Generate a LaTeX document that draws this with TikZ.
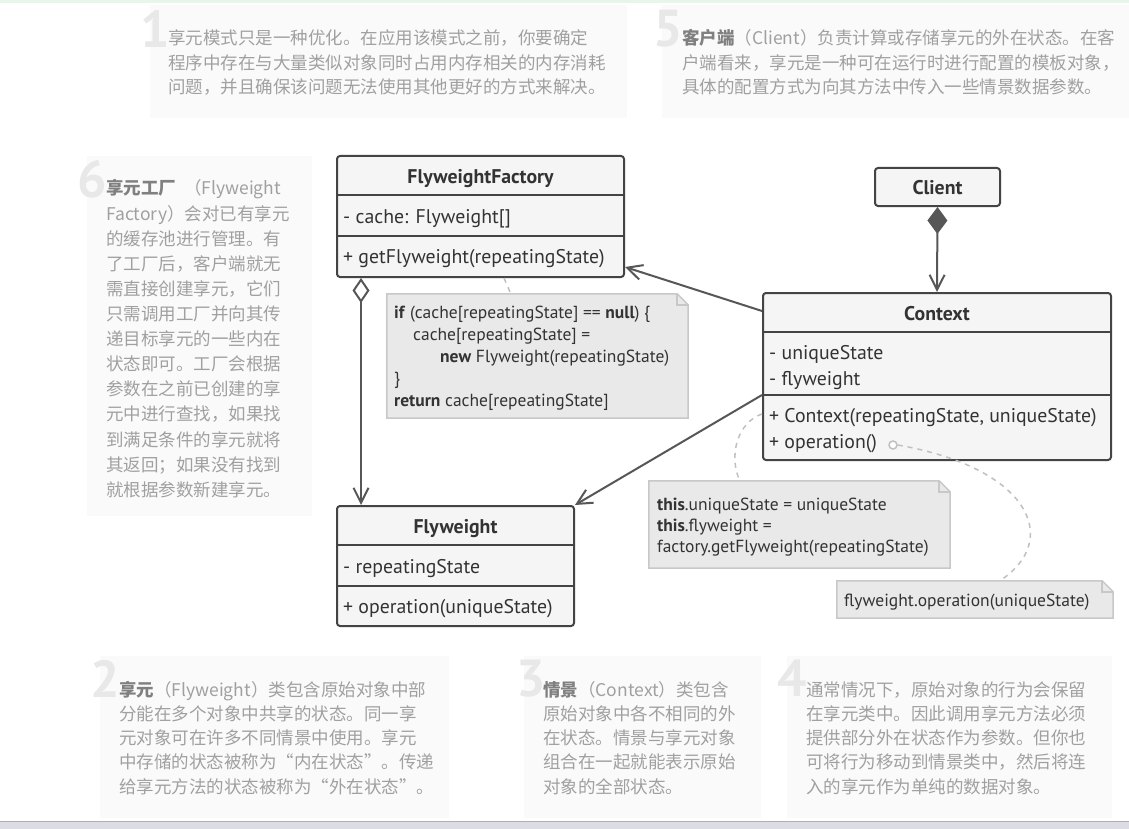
\documentclass[tikz,border=0pt]{standalone}
\usepackage{fontspec}
\setmainfont{PT Sans}
\newfontfamily\cjk{Noto Sans CJK SC}
\usetikzlibrary{arrows.meta,positioning}
\definecolor{umlline}{RGB}{68,68,68}
\definecolor{umlfill}{RGB}{245,245,245}
\definecolor{umltext}{RGB}{51,51,51}
\definecolor{notefill}{RGB}{233,233,233}
\definecolor{noteline}{RGB}{200,200,200}
\definecolor{linkgray}{RGB}{192,192,192}
\definecolor{tipbg}{RGB}{250,250,250}
\definecolor{tiptext}{RGB}{160,160,160}
\definecolor{tipbold}{RGB}{128,128,128}
\definecolor{tipdigit}{RGB}{232,232,232}
\definecolor{topline}{RGB}{232,245,236}
\definecolor{barfill}{RGB}{220,220,228}
\definecolor{barline}{RGB}{176,176,180}
\begin{document}
\begin{tikzpicture}[x=1pt,y=-1pt]
       \tikzstyle{classbox}=[draw=umlline, fill=umlfill, line width=2pt, rounded corners=3pt, inner sep=0pt]
       \tikzstyle{classline}=[draw=umlline, line width=2pt]
       \tikzstyle{classname}=[font=\fontsize{19.8}{22}\selectfont\bfseries, text=umltext, inner sep=0pt, anchor=base]
       \tikzstyle{member}=[font=\fontsize{19.8}{22}\selectfont, text=umltext, inner sep=0pt, anchor=base west]
       \tikzstyle{link}=[draw=umlline!90, line width=2pt]
       \tikzstyle{opentip}=[-{Straight Barb[length=15pt,width=15pt]}]
       \tikzstyle{dashlink}=[draw=linkgray, line width=1.5pt, dash pattern=on 5pt off 5pt]
       \tikzstyle{codenote}=[draw=noteline, fill=notefill, line width=1.5pt]
       \tikzstyle{codetext}=[font=\fontsize{17.5}{20}\selectfont, text=umltext, inner sep=0pt, anchor=base west]
       \tikzstyle{tipnum}=[font=\fontsize{52}{52}\selectfont\bfseries, text=tipdigit, inner sep=0pt, anchor=north west]
       \tikzstyle{tiptext}=[font=\cjk\fontsize{17.5}{24}\selectfont, text=tiptext, inner sep=0pt, anchor=base west]
       \useasboundingbox (0,0) rectangle (1129,829);
       \fill[white] (0,0) rectangle (1129,829);
       \fill[topline] (0,0) rectangle (1129,3);
       \fill[barfill] (0,821) rectangle (1129,829);
       \draw[barline, line width=1pt] (0,821) -- (1129,821);
       % tips
       \fill[tipbg] (150,5) rectangle (627,118);
       \node[tipnum] (tip1num) at (140,10) {1};
       \foreach \txt [count=\i from 0] in {享元模式只是一种优化。在应用该模式之前，你要确定,
          程序中存在与大量类似对象同时占用内存相关的内存消耗,
          问题，并且确保该问题无法使用其他更好的方式来解决。}
         \node[tiptext] (tip1-\i) at (168,{45+24.5*\i}) {\txt};
       \fill[tipbg] (662,5) rectangle (1129,118);
       \node[tipnum] (tip5num) at (653,10) {5};
       \foreach \txt [count=\i from 0] in {\textcolor{tipbold}{\textbf{客户端}}（Client）负责计算或存储享元的外在状态。在客,
          户端看来，享元是一种可在运行时进行配置的模板对象，,
          具体的配置方式为向其方法中传入一些情景数据参数。}
         \node[tiptext] (tip5-\i) at (682,{45+24.5*\i}) {\txt};
       \fill[tipbg] (87,156) rectangle (312,516);
       \node[tipnum] (tip6num) at (77,160) {6};
       \foreach \txt [count=\i from 0] in {\textcolor{tipbold}{\textbf{享元工厂}}\hspace{8pt}（Flyweight,
          Factory）会对已有享元, 的缓存池进行管理。有, 了工厂后，客户端就无,
          需直接创建享元，它们, 只需调用工厂并向其传, 递目标享元的一些内在,
          状态即可。工厂会根据, 参数在之前已创建的享, 元中进行查找，如果找,
          到满足条件的享元就将, 其返回；如果没有找到, 就根据参数新建享元。}
         \node[tiptext] (tip6-\i) at (106,{195+25.1*\i}) {\txt};
       \fill[tipbg] (100,656) rectangle (449,818);
       \node[tipnum] (tip2num) at (90,660) {2};
       \foreach \txt [count=\i from 0] in {\textcolor{tipbold}{\textbf{享元}}（Flyweight）类包含原始对象中部,
          分能在多个对象中共享的状态。同一享, 元对象可在许多不同情景中使用。享元,
          中存储的状态被称为“内在状态”。传递, 给享元方法的状态被称为“外在状态”。}
         \node[tiptext] (tip2-\i) at (119,{696+24.3*\i}) {\txt};
       \fill[tipbg] (524,656) rectangle (761,818);
       \node[tipnum] (tip3num) at (516,660) {3};
       \foreach \txt [count=\i from 0] in {\textcolor{tipbold}{\textbf{情景}}（Context）类包含,
          原始对象中各不相同的外, 在状态。情景与享元对象, 组合在一起就能表示原始,
          对象的全部状态。}
         \node[tiptext] (tip3-\i) at (543,{696+24.3*\i}) {\txt};
       \fill[tipbg] (787,656) rectangle (1112,818);
       \node[tipnum] (tip4num) at (777,660) {4};
       \foreach \txt [count=\i from 0] in {通常情况下，原始对象的行为会保留,
          在享元类中。因此调用享元方法必须, 提供部分外在状态作为参数。但你也,
          可将行为移动到情景类中，然后将连, 入的享元作为单纯的数据对象。}
         \node[tiptext] (tip4-\i) at (806,{696+24.3*\i}) {\txt};
       % classes
       \node[classbox, minimum width=287pt, minimum height=121pt] (factory) at (480.5,216.5) {};
       \draw[classline] ([yshift=-40pt]factory.north west) -- ([yshift=-40pt]factory.north east);
       \draw[classline] ([yshift=-81pt]factory.north west) -- ([yshift=-81pt]factory.north east);
       \node[classname] (factoryname) at (480.5,183) {FlyweightFactory};
       \node[member] (factorycache) at (343,223) {- cache: Flyweight[]};
       \node[member] (factoryget) at (343,263) {+ getFlyweight(repeatingState)};
       \node[classbox, minimum width=125pt, minimum height=38pt] (client) at (937.5,187) {};
       \node[classname] (clientname) at (937.5,194) {Client};
       \node[classbox, minimum width=348pt, minimum height=167pt] (context) at (937,376.5) {};
       \draw[classline] ([yshift=-40pt]context.north west) -- ([yshift=-40pt]context.north east);
       \draw[classline] ([yshift=-103pt]context.north west) -- ([yshift=-103pt]context.north east);
       \node[classname] (contextname) at (937,320) {Context};
       \node[member] (contextunique) at (769,359) {- uniqueState};
       \node[member] (contextfly) at (769,385) {- flyweight};
       \node[member] (contextctor) at (769,422) {+ Context(repeatingState, uniqueState)};
       \node[member] (contextop) at (769,448) {+ operation()};
       \node[classbox, minimum width=237pt, minimum height=120pt] (flyweight) at (455.5,566) {};
       \draw[classline] ([yshift=-40pt]flyweight.north west) -- ([yshift=-40pt]flyweight.north east);
       \draw[classline] ([yshift=-81pt]flyweight.north west) -- ([yshift=-81pt]flyweight.north east);
       \node[classname] (flyweightname) at (455.5,533) {Flyweight};
       \node[member] (flyweightstate) at (343,573) {- repeatingState};
       \node[member] (flyweightop) at (343,613) {+ operation(uniqueState)};
       % code notes
       \node[inner sep=0pt, minimum width=301pt, minimum height=124pt] (ifnote) at (537.5,356) {};
       \draw[codenote] (ifnote.south west) -- (ifnote.north west) -- ([xshift=-11pt]ifnote.north east)
         -- ([yshift=-11pt]ifnote.north east) -- (ifnote.south east) -- cycle;
       \draw[noteline, line width=1.5pt] ([xshift=-11pt]ifnote.north east) -- ([xshift=-11pt,yshift=-11pt]ifnote.north east) -- ([yshift=-11pt]ifnote.north east);
       \foreach \dx/\txt [count=\i from 0] in {0/\textbf{if} (cache[repeatingState] == \textbf{null}) \{,
          19/cache[repeatingState] =, 46/\textbf{new} Flyweight(repeatingState), 0/\},
          0/\textbf{return} cache[repeatingState]}
         \node[codetext] (ifnote-\i) at ({394+\dx},{318+22*\i}) {\txt};
       \node[inner sep=0pt, minimum width=301pt, minimum height=87pt] (ctornote) at (799.5,524.5) {};
       \draw[codenote] (ctornote.south west) -- (ctornote.north west) -- ([xshift=-11pt]ctornote.north east)
         -- ([yshift=-11pt]ctornote.north east) -- (ctornote.south east) -- cycle;
       \draw[noteline, line width=1.5pt] ([xshift=-11pt]ctornote.north east) -- ([xshift=-11pt,yshift=-11pt]ctornote.north east) -- ([yshift=-11pt]ctornote.north east);
       \foreach \txt [count=\i from 0] in {\textbf{this}.uniqueState = uniqueState,
          \textbf{this}.flyweight =, factory.getFlyweight(repeatingState)}
         \node[codetext] (ctornote-\i) at (657,{510+21*\i}) {\txt};
       \node[inner sep=0pt, minimum width=276pt, minimum height=37pt] (opnote) at (975,599.5) {};
       \draw[codenote] (opnote.south west) -- (opnote.north west) -- ([xshift=-11pt]opnote.north east)
         -- ([yshift=-11pt]opnote.north east) -- (opnote.south east) -- cycle;
       \draw[noteline, line width=1.5pt] ([xshift=-11pt]opnote.north east) -- ([xshift=-11pt,yshift=-11pt]opnote.north east) -- ([yshift=-11pt]opnote.north east);
       \node[codetext] (opnotetext) at (844,606) {flyweight.operation(uniqueState)};
       % links
       \draw[link, opentip] ([yshift=-19pt]context.north west) -- ([yshift=11pt]factory.south east);
       \draw[link, opentip] ([yshift=-103pt]context.north west) -- (flyweight.north east);
       \draw[link, {Diamond[fill=white,length=25pt,width=17pt]}-{Straight Barb[length=15pt,width=15pt]}]
         ([xshift=25pt]factory.south west) -- ([xshift=25pt]flyweight.north west);
       \draw[link, {Diamond[length=27pt,width=20pt]}-{Straight Barb[length=15pt,width=15pt]}]
         (client.south) -- (context.north);
       \draw[dashlink] ([xshift=168pt]factory.south west) -- ([xshift=124pt]ifnote.north west);
       \draw[dashlink] ([yshift=-122pt]context.north west) .. controls (738,422) and (728,455) .. ([xshift=91pt]ctornote.north west);
       \node[circle, draw=linkgray, fill=white, line width=1.5pt, minimum size=8pt, inner sep=0pt] (opdot) at (893,445) {};
       \draw[dashlink] (opdot.east) .. controls (1030,468) and (1062,540) .. ([xshift=163pt]opnote.north west);
\end{tikzpicture}
\end{document}
